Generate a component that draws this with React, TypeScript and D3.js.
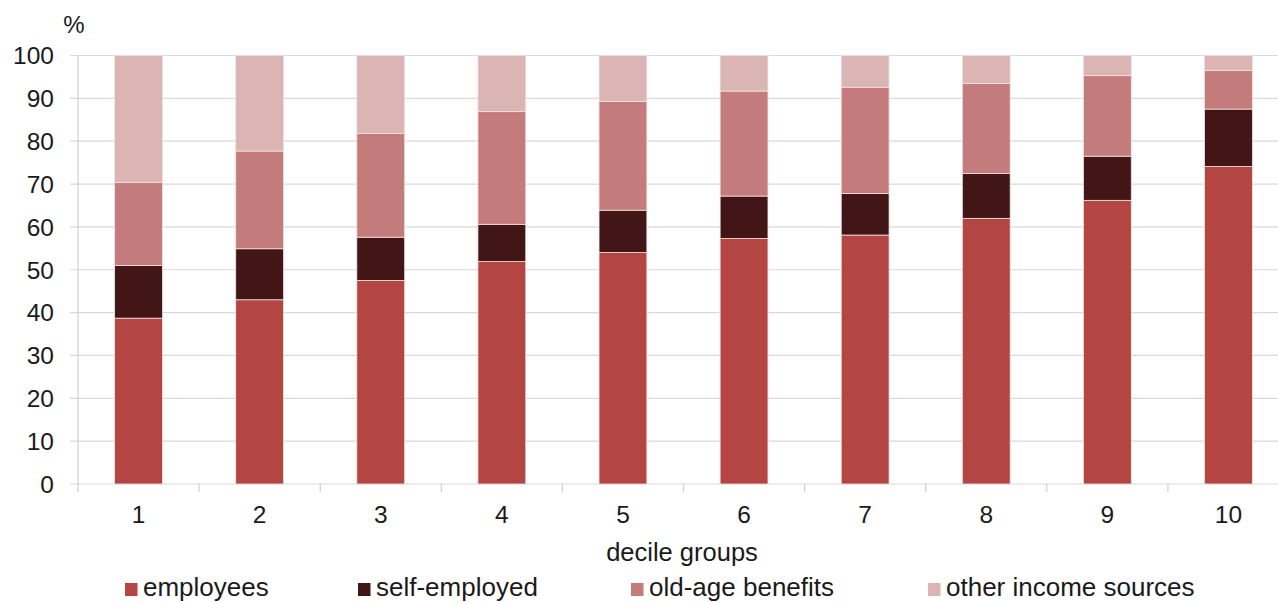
import React from "react";
import * as d3 from "d3";

const categories = ["1", "2", "3", "4", "5", "6", "7", "8", "9", "10"];
const employees = [38.7, 43.0, 47.5, 51.9, 54.0, 57.3, 58.1, 62.0, 66.2, 74.1];
const selfEmployed = [12.3, 11.9, 10.1, 8.7, 9.9, 9.9, 9.7, 10.5, 10.3, 13.4];
const oldAgeBenefits = [19.4, 22.8, 24.2, 26.3, 25.4, 24.5, 24.8, 21.0, 18.8, 9.0];
const otherIncome = [29.6, 22.3, 18.2, 13.1, 10.7, 8.3, 7.4, 6.5, 4.7, 3.5];
const seriesNames = ["employees", "self-employed", "old-age benefits", "other income sources"];
const yTicks = [0, 10, 20, 30, 40, 50, 60, 70, 80, 90, 100];

const colors = ["#B34542", "#421517", "#C47B7B", "#DBB4B4"];
const W = 1278;
const H = 602;
const FONT = "'Liberation Sans', Arial, sans-serif";

export default function App() {
  const x = d3
    .scaleBand<string>()
    .domain(categories)
    .range([78, 1289])
    .paddingInner(0.605)
    .paddingOuter(0.3025);
  const y = d3.scaleLinear().domain([0, 100]).range([484, 55.5]);

  const rows = categories.map((c, i) => ({
    cat: c,
    s0: employees[i],
    s1: selfEmployed[i],
    s2: oldAgeBenefits[i],
    s3: otherIncome[i],
  }));
  const stack = d3.stack<any>().keys(["s0", "s1", "s2", "s3"]);
  const layers = stack(rows);

  const legendX = [125, 358, 631, 928];
  const xTickPositions = categories.map((c) => (x(c) as number) - (x.step() * x.paddingInner()) / 2);
  xTickPositions.push(1289);

  return (
    <svg
      width={W}
      height={H}
      style={{ position: "absolute", left: 0, top: 0, background: "#fff" }}
      fontFamily={FONT}
    >
      {/* gridlines */}
      {yTicks.map((t) => (
        <line key={"g" + t} x1={70} x2={W} y1={y(t)} y2={y(t)} stroke="#d9d9d9" strokeWidth={1.2} />
      ))}
      {/* y axis line */}
      <line x1={78} x2={78} y1={y(100)} y2={y(0)} stroke="#d0d0d0" strokeWidth={1.2} />
      {/* x ticks */}
      {xTickPositions.map((p, i) => (
        <line key={"xt" + i} x1={p} x2={p} y1={y(0)} y2={y(0) + 8} stroke="#d0d0d0" strokeWidth={1.2} />
      ))}
      {/* bars */}
      {layers.map((layer, li) => (
        <g key={"l" + li} fill={colors[li]}>
          {layer.map((d, i) => (
            <rect
              key={i}
              x={x(categories[i])}
              y={y(d[1])}
              width={x.bandwidth()}
              height={y(d[0]) - y(d[1])}
              stroke="#f3e1e1"
              strokeWidth={0.8}
            />
          ))}
        </g>
      ))}
      {/* y labels */}
      {yTicks.map((t) => (
        <text
          key={"yl" + t}
          x={54}
          y={y(t)}
          dy="0.36em"
          textAnchor="end"
          fontSize={24.5}
          fill="#1a1a1a"
        >
          {t}
        </text>
      ))}
      <text x={74} y={33} textAnchor="middle" fontSize={24} fill="#1a1a1a">
        %
      </text>
      {/* x labels */}
      {categories.map((c) => (
        <text
          key={"xl" + c}
          x={(x(c) as number) + x.bandwidth() / 2}
          y={523}
          textAnchor="middle"
          fontSize={24.5}
          fill="#1a1a1a"
        >
          {c}
        </text>
      ))}
      <text x={682} y={561} textAnchor="middle" fontSize={25.5} fill="#1a1a1a">
        decile groups
      </text>
      {/* legend */}
      {seriesNames.map((n, i) => (
        <g key={"lg" + i}>
          <rect x={legendX[i]} y={583} width={12.5} height={13} fill={colors[i]} />
          <text x={legendX[i] + 18} y={596} fontSize={26} fill="#1a1a1a">
            {n}
          </text>
        </g>
      ))}
    </svg>
  );
}
